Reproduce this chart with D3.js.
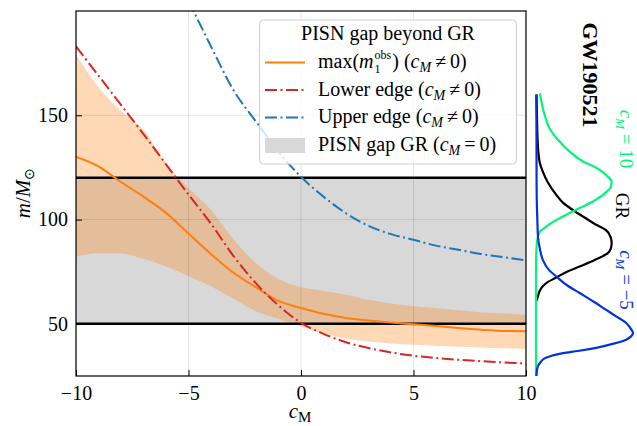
<!DOCTYPE html>
<html>
<head>
<meta charset="utf-8">
<script src="https://cdn.jsdelivr.net/npm/d3@7"></script>
<style>
body { margin: 0; background: #fff; }
text { font-family: "Liberation Serif", "Times New Roman", serif; }
</style>
</head>
<body>
<svg id="chart" width="637" height="426"></svg>
<script>
// values
const cM = [-10, -9, -8, -7, -6, -5, -4, -3, -2, -1, 0, 1, 2, 3, 4, 5, 6, 7, 8, 9, 10];
const maxObs = [130, 125.5, 118, 111, 103.2, 93.3, 83.5, 74.5, 67.5, 61, 57.6, 54.8, 52.8, 51.6, 50.6, 49.8, 49, 48, 47.2, 46.6, 46.5];
const bandHi = [179, 163.5, 152, 143, 127, 115, 104.6, 90.5, 79, 71.5, 67.5, 65.8, 64, 61.5, 59.8, 58.4, 57.5, 56.5, 55.5, 55, 54.3];
const bandLo = [82.3, 83.9, 83.7, 81.2, 77.5, 73, 68, 62, 56, 52.3, 48.8, 45.3, 43, 41.5, 40.6, 40, 39.5, 39, 38.7, 38.3, 38];
const lowerEdge = [183, 169, 155, 141, 126.5, 112, 98, 82.5, 69.4, 58.8, 50.5, 45.2, 41.2, 38.4, 36.3, 34.7, 33.6, 32.8, 32.1, 31.5, 31];
const cMUpper = [-5, -4, -3, -2, -1, 0, 1, 2, 3, 4, 5, 6, 7, 8, 9, 10];
const upperEdge = [205, 183, 162, 147, 132.5, 120.5, 111, 103, 97, 93, 90.3, 87.5, 85.5, 83.5, 82, 80.4];
const gapGR = [50, 120];
const xTicks = [-10, -5, 0, 5, 10];
const yTicks = [50, 100, 150];

// GW190521 primary mass posteriors (relative density)
const massGreen = [160.5, 150, 143.7, 138, 132.5, 128, 124.6, 121, 118.2, 115.5, 113.4, 109, 105.5, 102, 99, 96, 94.3, 90, 85, 80, 25];
const densGreen = [0.04, 0.09, 0.14, 0.23, 0.35, 0.48, 0.63, 0.73, 0.78, 0.77, 0.73, 0.6, 0.45, 0.3, 0.18, 0.09, 0.04, 0.012, 0.004, 0, 0];
const massGR = [160, 150, 140, 132.5, 127, 123, 118, 111.8, 108, 104.6, 101, 97.5, 95, 91.5, 88.7, 86, 83.9, 80.5, 77.5, 75, 72, 70, 68, 65.5, 63.2, 61];
const densGR = [0.005, 0.01, 0.015, 0.024, 0.04, 0.07, 0.12, 0.21, 0.28, 0.38, 0.5, 0.62, 0.72, 0.77, 0.78, 0.77, 0.74, 0.6, 0.45, 0.32, 0.2, 0.12, 0.07, 0.035, 0.02, 0.005];
const massBlue = [160, 140, 118, 105, 98, 91.9, 86, 80.7, 76, 72.7, 68.5, 64.8, 60.5, 56.8, 53.5, 50.4, 47.5, 45.6, 44, 42.4, 40.5, 38.5, 37, 36, 34.8, 33.7, 31.5, 29.7, 27, 25];
const densBlue = [0.003, 0.005, 0.006, 0.01, 0.015, 0.02, 0.04, 0.07, 0.13, 0.21, 0.32, 0.45, 0.6, 0.72, 0.83, 0.93, 0.98, 1.0, 0.98, 0.93, 0.8, 0.62, 0.43, 0.28, 0.17, 0.1, 0.045, 0.02, 0.008, 0.005];

const svg = d3.select("#chart");
const pLeft = 76, pRight = 526, pTop = 11, pBottom = 376;
const dashDot = "12,3.5,2,3.5";

const x = d3.scaleLinear().domain([-10, 10]).range([pLeft, pRight]);
const y = d3.scaleLinear().domain([25, 200]).range([pBottom, pTop]);
const xd = d3.scaleLinear().domain([0, 1]).range([536, 633]);

svg.append("defs").append("clipPath").attr("id", "plotclip")
    .append("rect").attr("x", pLeft).attr("y", pTop).attr("width", pRight - pLeft).attr("height", pBottom - pTop);

const plot = svg.append("g").attr("clip-path", "url(#plotclip)");

// GR gap
plot.append("rect")
    .attr("x", pLeft).attr("width", pRight - pLeft)
    .attr("y", y(gapGR[1])).attr("height", y(gapGR[0]) - y(gapGR[1]))
    .attr("fill", "#d8d8d8");

// orange uncertainty band
const band = d3.area()
    .x((d, i) => x(cM[i]))
    .y0((d, i) => y(bandLo[i]))
    .y1((d, i) => y(bandHi[i]))
    .curve(d3.curveMonotoneX);
plot.append("path").datum(cM).attr("d", band)
    .attr("fill", "#ff7f0e").attr("fill-opacity", 0.3);

// grid
plot.selectAll("line.gx").data(xTicks).enter().append("line")
    .attr("x1", d => x(d)).attr("x2", d => x(d)).attr("y1", pTop).attr("y2", pBottom)
    .attr("stroke", "#000").attr("stroke-opacity", 0.1).attr("stroke-width", 1);
plot.selectAll("line.gy").data(yTicks).enter().append("line")
    .attr("y1", d => y(d)).attr("y2", d => y(d)).attr("x1", pLeft).attr("x2", pRight)
    .attr("stroke", "#000").attr("stroke-opacity", 0.1).attr("stroke-width", 1);

// gap edges
plot.selectAll("line.gap").data(gapGR).enter().append("line")
    .attr("x1", pLeft).attr("x2", pRight).attr("y1", d => y(d)).attr("y2", d => y(d))
    .attr("stroke", "#000").attr("stroke-width", 2.5);

const line = (xs, ys) => d3.line().x((d, i) => x(xs[i])).y((d, i) => y(ys[i])).curve(d3.curveMonotoneX)(xs);

plot.append("path").attr("d", line(cM, maxObs))
    .attr("fill", "none").attr("stroke", "#ff7f0e").attr("stroke-width", 2);
plot.append("path").attr("d", line(cM, lowerEdge))
    .attr("fill", "none").attr("stroke", "#d62728").attr("stroke-width", 2)
    .attr("stroke-dasharray", dashDot);
plot.append("path").attr("d", line(cMUpper, upperEdge))
    .attr("fill", "none").attr("stroke", "#1f77b4").attr("stroke-width", 2)
    .attr("stroke-dasharray", dashDot);

// frame and ticks
svg.append("rect").attr("x", pLeft).attr("y", pTop).attr("width", pRight - pLeft).attr("height", pBottom - pTop)
    .attr("fill", "none").attr("stroke", "#000").attr("stroke-width", 1.2);

svg.append("g").attr("transform", `translate(0,${pBottom})`)
    .call(d3.axisBottom(x).tickValues(xTicks).tickSizeInner(-6).tickSizeOuter(0).tickPadding(10)
        .tickFormat(d => d < 0 ? "\u2212" + Math.abs(d) : d))
    .call(g => g.select(".domain").remove())
    .call(g => g.selectAll("text").attr("font-size", 20).attr("font-family", "Liberation Serif").attr("fill", "#000"));

svg.append("g").attr("transform", `translate(${pLeft},0)`)
    .call(d3.axisLeft(y).tickValues(yTicks).tickSizeInner(-6).tickSizeOuter(0).tickPadding(8))
    .call(g => g.select(".domain").remove())
    .call(g => g.selectAll("text").attr("font-size", 20).attr("font-family", "Liberation Serif").attr("fill", "#000"));

// axis labels
const xl = svg.append("text").attr("x", 300).attr("y", 418).attr("text-anchor", "middle").attr("font-size", 21);
xl.append("tspan").attr("font-style", "italic").text("c");
xl.append("tspan").attr("font-size", 15).attr("dy", 4).text("M");

const yl = svg.append("text").attr("transform", "translate(30,193) rotate(-90)").attr("text-anchor", "middle").attr("font-size", 21);
yl.append("tspan").attr("font-style", "italic").text("m");
yl.append("tspan").text("/");
yl.append("tspan").attr("font-style", "italic").text("M");
yl.append("tspan").attr("font-size", 14).attr("dy", 4).text("\u2299");

// legend
const lg = svg.append("g");
lg.append("rect").attr("x", 259.5).attr("y", 20).attr("width", 257).attr("height", 144).attr("rx", 4)
    .attr("fill", "#fff").attr("fill-opacity", 0.8).attr("stroke", "#d0d0d0").attr("stroke-width", 1);
lg.append("text").attr("x", 388).attr("y", 40).attr("text-anchor", "middle").attr("font-size", 20)
    .text("PISN gap beyond GR");

const cmNe = (t, rel) => {
    t.append("tspan").text(" (");
    t.append("tspan").attr("font-style", "italic").text("c");
    t.append("tspan").attr("font-style", "italic").attr("font-size", 14).attr("dy", 4).text("M");
    t.append("tspan").attr("dy", -4).text("\u2009" + rel + "\u20090)");
};

// max(m_1^obs): base, stacked scripts, then the rest
let t = lg.append("text").attr("x", 318).attr("y", 68).attr("font-size", 20);
t.append("tspan").text("max(");
t.append("tspan").attr("font-style", "italic").text("m");
const mEnd = 318 + t.node().getComputedTextLength() + 1;
const sup = lg.append("text").attr("x", mEnd).attr("y", 59).attr("font-size", 12).text("obs");
lg.append("text").attr("x", mEnd).attr("y", 73).attr("font-size", 12).text("1");
t = lg.append("text").attr("x", mEnd + sup.node().getComputedTextLength() + 1).attr("y", 68).attr("font-size", 20);
t.append("tspan").text(")");
cmNe(t, "\u2260");

t = lg.append("text").attr("x", 318).attr("y", 96).attr("font-size", 20);
t.append("tspan").text("Lower edge");
cmNe(t, "\u2260");

t = lg.append("text").attr("x", 318).attr("y", 123).attr("font-size", 20);
t.append("tspan").text("Upper edge");
cmNe(t, "\u2260");

t = lg.append("text").attr("x", 318).attr("y", 151).attr("font-size", 20);
t.append("tspan").text("PISN gap GR");
cmNe(t, "=");

lg.append("line").attr("x1", 265).attr("x2", 305).attr("y1", 62.5).attr("y2", 62.5)
    .attr("stroke", "#ff7f0e").attr("stroke-width", 2);
lg.append("line").attr("x1", 265).attr("x2", 305).attr("y1", 90).attr("y2", 90)
    .attr("stroke", "#d62728").attr("stroke-width", 2).attr("stroke-dasharray", dashDot);
lg.append("line").attr("x1", 265).attr("x2", 305).attr("y1", 117.5).attr("y2", 117.5)
    .attr("stroke", "#1f77b4").attr("stroke-width", 2).attr("stroke-dasharray", dashDot);
lg.append("rect").attr("x", 265).attr("y", 138).attr("width", 40).attr("height", 15).attr("fill", "#d8d8d8");

// right panel: posteriors
const dens = (ms, ds) => d3.line().x((d, i) => xd(ds[i])).y((d, i) => y(ms[i])).curve(d3.curveMonotoneY)(ms);
svg.append("path").attr("d", dens(massGR, densGR)).attr("fill", "none").attr("stroke", "#000").attr("stroke-width", 2.2);
svg.append("path").attr("d", dens(massGreen, densGreen)).attr("fill", "none").attr("stroke", "#00f57a").attr("stroke-width", 2.2);
svg.append("path").attr("d", dens(massBlue, densBlue)).attr("fill", "none").attr("stroke", "#0033dd").attr("stroke-width", 2.2);

svg.append("text").attr("transform", "translate(583,75) rotate(90)").attr("text-anchor", "middle")
    .attr("font-size", 22).attr("font-weight", "bold").text("GW190521");

const rot = (cx, cy, color, val) => {
    const r = svg.append("text").attr("transform", `translate(${cx},${cy}) rotate(90)`).attr("text-anchor", "middle")
        .attr("font-size", 19).attr("fill", color);
    r.append("tspan").attr("font-style", "italic").text("c");
    r.append("tspan").attr("font-style", "italic").attr("font-size", 13).attr("dy", 4).text("M");
    r.append("tspan").attr("dy", -4).text(" = " + val);
};
rot(620, 139, "#00f57a", "10");
svg.append("text").attr("transform", "translate(616,206) rotate(90)").attr("text-anchor", "middle")
    .attr("font-size", 19).text("GR");
rot(620, 280, "#0033dd", "\u22125");
</script>
</body>
</html>
